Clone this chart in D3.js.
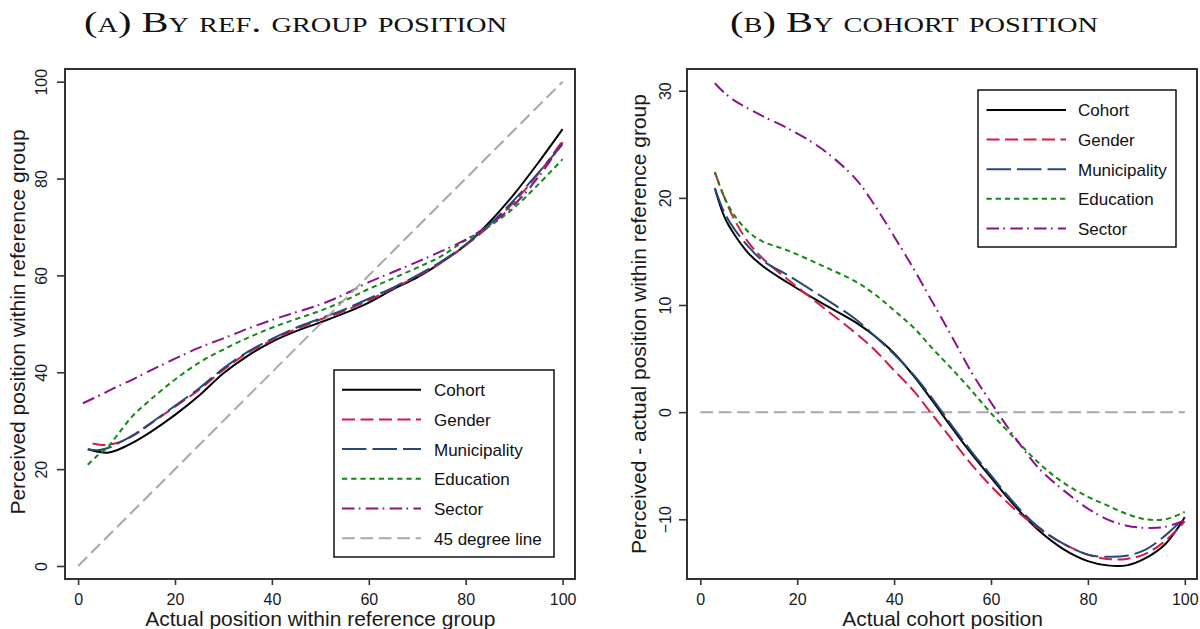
<!DOCTYPE html>
<html>
<head>
<meta charset="utf-8">
<script src="https://cdn.jsdelivr.net/npm/d3@7"></script>
<style>
  html,body{margin:0;padding:0;background:#fff;}
  svg{display:block;}
</style>
</head>
<body>
<svg id="chart" width="1200" height="629"></svg>
<script>
// ---------------- DATA ----------------
// Panel A: perceived position within reference group vs actual position
const leftTicksX = [0, 20, 40, 60, 80, 100];
const leftTicksY = [0, 20, 40, 60, 80, 100];
const leftGrid   = [2,4,6,8,11,15,20,25,30,35,40,45,50,55,60,65,70,75,80,85,90,95,100];
const leftCohort = [24.1,23.6,23.4,23.9,25.3,27.7,31.2,35.2,39.8,43.4,46.3,48.5,50.3,52.2,54.4,57.1,59.6,62.7,66.3,71.1,76.8,83.3,90.2];
const leftGenderX = [3,5,8,11,15,20,25,30,35,40,45,50,55,60,65,70,75,80,85,90,95,100];
const leftGender = [25.3,25.0,25.4,26.7,29.4,32.9,36.4,40.5,44.0,46.6,48.9,50.9,52.7,54.9,57.3,59.8,62.7,66.2,70.3,75.2,81.0,87.8];
const leftMunicipality = [24.1,23.9,24.3,25.2,26.8,29.5,33.1,36.7,40.8,44.2,46.9,49.2,51.1,53.0,55.2,57.5,60.0,62.9,66.4,70.6,75.6,81.2,87.1];
const leftEducation = [20.9,22.8,24.4,26.9,30.7,34.4,38.5,42.0,44.7,47.1,49.2,51.0,52.7,54.8,57.2,59.4,61.6,64.0,67.3,70.2,74.0,78.8,84.0];
const leftSectorX = [1,5,8,11,15,20,25,30,35,40,45,50,55,60,65,70,75,80,85,90,95,100];
const leftSector = [33.6,35.5,37.0,38.4,40.4,42.8,45.1,47.0,49.0,50.8,52.4,54.0,56.1,58.6,60.7,62.8,65.0,67.4,70.5,74.6,80.3,87.5];
const diagonalX = [0, 100];
const diagonalY = [0, 100];

// Panel B: perceived - actual position vs actual cohort position
const rightTicksX = [0, 20, 40, 60, 80, 100];
const rightTicksY = [-10, 0, 10, 20, 30];
const rightGrid   = [3,5,7,10,13,18,25,32,36,40,44,48,52,56,60,65,70,75,80,84,88,92,96,100];
const rightCohort = [20.9,18.2,16.6,14.8,13.6,12.1,10.2,8.4,7.1,5.5,3.4,1.0,-1.5,-3.9,-6.1,-8.8,-11.1,-12.8,-13.9,-14.3,-14.3,-13.6,-12.3,-9.8];
const rightGender = [22.4,20.0,18.0,15.8,14.3,12.4,9.9,7.4,5.8,3.9,2.0,-0.3,-2.6,-4.9,-6.9,-9.1,-10.9,-12.3,-13.3,-13.7,-13.7,-13.2,-12.0,-10.2];
const rightMunicipality = [20.9,18.6,17.1,15.4,14.1,12.8,10.8,8.7,7.1,5.4,3.5,1.2,-1.3,-3.7,-5.9,-8.6,-10.8,-12.3,-13.3,-13.5,-13.4,-12.8,-11.5,-9.8];
const rightEducation = [22.4,20.0,18.4,16.8,15.9,15.1,13.7,12.2,11.0,9.5,7.9,5.9,4.0,2.0,-0.1,-2.5,-4.8,-6.6,-7.9,-8.7,-9.5,-10.0,-10.0,-9.3];
const rightSector = [30.7,29.8,29.1,28.3,27.6,26.5,24.6,21.8,19.3,16.4,13.4,10.2,7.0,3.7,0.9,-2.4,-5.3,-7.3,-9.0,-10.0,-10.6,-10.8,-10.7,-10.1];
const zeroLineX = [0, 100];
const zeroLineY = [0, 0];

const leftLegendLabels = ["Cohort","Gender","Municipality","Education","Sector","45 degree line"];
const rightLegendLabels = ["Cohort","Gender","Municipality","Education","Sector"];

// ---------------- STYLES ----------------
const styles = {
  Cohort:        {color:"#000000", dash:null},
  Gender:        {color:"#d01c46", dash:"13,5.5"},
  Municipality:  {color:"#27497a", dash:"24.5,6"},
  Education:     {color:"#138a13", dash:"5.3,3.9"},
  Sector:        {color:"#8c128c", dash:"12.5,4.3,1.7,5.3"},
  "45 degree line": {color:"#a8a8a8", dash:"12.7,5.7"}
};

const svg = d3.select("#chart");
const FONT = "'Liberation Sans', Arial, sans-serif";
const SERIF = "'Liberation Serif', 'Times New Roman', serif";
const zip = (xs, ys) => xs.map((v,i)=>[v, ys[i]]);

function drawPanel(cfg){
  const g = svg.append("g");
  const x = d3.scaleLinear().domain([0,100]).range(cfg.xRange);
  const y = d3.scaleLinear().domain(cfg.yDomain).range(cfg.yRange);
  const f = cfg.frame;

  const line = d3.line().x(d=>x(d[0])).y(d=>y(d[1])).curve(d3.curveCatmullRom.alpha(0.5));

  (cfg.under||[]).forEach(s=>{
    g.append("path").attr("d", line(s.data)).attr("fill","none")
      .attr("stroke", styles[s.name].color).attr("stroke-width",2)
      .attr("stroke-dasharray", styles[s.name].dash);
  });
  cfg.series.forEach(s=>{
    const st = styles[s.name];
    g.append("path").attr("d", line(s.data)).attr("fill","none")
      .attr("stroke", st.color).attr("stroke-width", 2)
      .attr("stroke-dasharray", st.dash).attr("stroke-linejoin","round");
  });

  g.append("rect").attr("x",f.x0).attr("y",f.y0).attr("width",f.x1-f.x0).attr("height",f.y1-f.y0)
    .attr("fill","none").attr("stroke","#333").attr("stroke-width",2);

  const xa = g.append("g").attr("transform",`translate(0,${f.y1})`)
    .call(d3.axisBottom(x).tickValues(cfg.xTicks).tickSize(6).tickPadding(8.6).tickFormat(d3.format("d")));
  xa.select(".domain").remove();
  xa.selectAll("line").attr("stroke","#333").attr("stroke-width",1.6);
  xa.selectAll("text").attr("font-family",FONT).attr("font-size",16).attr("fill","#1a1a1a");

  const ya = g.append("g").attr("transform",`translate(${f.x0},0)`)
    .call(d3.axisLeft(y).tickValues(cfg.yTicks).tickSize(8).tickFormat(d3.format("d")));
  ya.select(".domain").remove();
  ya.selectAll("line").attr("stroke","#333").attr("stroke-width",1.6);
  ya.selectAll("text").attr("x",null).attr("dy",null)
    .attr("transform",`translate(${cfg.yLabelOff},0) rotate(-90)`)
    .attr("text-anchor","middle")
    .attr("font-family",FONT).attr("font-size",16).attr("fill","#1a1a1a");

  g.append("text").attr("x",(cfg.xRange[0]+cfg.xRange[1])/2).attr("y",626)
    .attr("text-anchor","middle").attr("font-family",FONT).attr("font-size",21).attr("fill","#1a1a1a")
    .text(cfg.xTitle);
  g.append("text").attr("transform",`translate(${cfg.yTitleX},${cfg.yTitleY}) rotate(-90)`)
    .attr("text-anchor","middle").attr("font-family",FONT).attr("font-size",21).attr("fill","#1a1a1a")
    .text(cfg.yTitle);

  const L = cfg.legend;
  g.append("rect").attr("x",L.x0).attr("y",L.y0).attr("width",L.x1-L.x0).attr("height",L.y1-L.y0)
    .attr("fill","#fff").attr("stroke","#000").attr("stroke-width",1.4);
  L.labels.forEach((lab,i)=>{
    const ry = L.row0 + i*L.step;
    const st = styles[lab];
    g.append("line").attr("x1",L.s0).attr("x2",L.s1).attr("y1",ry).attr("y2",ry)
      .attr("stroke",st.color).attr("stroke-width",2).attr("stroke-dasharray",st.dash);
    g.append("text").attr("x",L.tx).attr("y",ry).attr("dy","0.38em")
      .attr("font-family",FONT).attr("font-size",17).attr("fill","#111").text(lab);
  });

  const t = svg.append("text").attr("x",cfg.titleX).attr("y",32).attr("text-anchor","start")
    .attr("font-family",SERIF).attr("font-size",28.5).attr("fill","#111")
    .style("font-variant","small-caps").text(cfg.title);
  t.attr("textLength", cfg.titleW).attr("lengthAdjust","spacingAndGlyphs");
}

drawPanel({
  frame:{x0:65,x1:575,y0:69,y1:579},
  xRange:[78.1,562.6], yDomain:[0,100], yRange:[566,81.7],
  xTicks:leftTicksX, yTicks:leftTicksY, yLabelOff:-18,
  xTitle:"Actual position within reference group",
  yTitle:"Perceived position within reference group", yTitleX:25, yTitleY:322,
  series:[
    {name:"Cohort", data:zip(leftGrid,leftCohort)},
    {name:"Gender", data:zip(leftGenderX,leftGender)},
    {name:"Municipality", data:zip(leftGrid,leftMunicipality)},
    {name:"Education", data:zip(leftGrid,leftEducation)},
    {name:"Sector", data:zip(leftSectorX,leftSector)},
    {name:"45 degree line", data:zip(diagonalX,diagonalY)}
  ],
  legend:{x0:334,x1:554,y0:370,y1:557,row0:389.7,step:29.7,s0:342,s1:421,tx:434,labels:leftLegendLabels},
  title:"(a) By ref. group position", titleX:84, titleW:423
});

drawPanel({
  frame:{x0:687,x1:1197,y0:69,y1:579},
  xRange:[700.3,1184.8], yDomain:[-10,30], yRange:[519.3,90.7],
  xTicks:rightTicksX, yTicks:rightTicksY, yLabelOff:-16,
  xTitle:"Actual cohort position",
  yTitle:"Perceived - actual position within reference group", yTitleX:645.5, yTitleY:324,
  under:[{name:"45 degree line", data:zip(zeroLineX,zeroLineY)}],
  series:[
    {name:"Cohort", data:zip(rightGrid,rightCohort)},
    {name:"Gender", data:zip(rightGrid,rightGender)},
    {name:"Municipality", data:zip(rightGrid,rightMunicipality)},
    {name:"Education", data:zip(rightGrid,rightEducation)},
    {name:"Sector", data:zip(rightGrid,rightSector)}
  ],
  legend:{x0:978,x1:1176,y0:90,y1:247,row0:110,step:29.6,s0:986.5,s1:1066,tx:1078,labels:rightLegendLabels},
  title:"(b) By cohort position", titleX:730, titleW:368
});
</script>
</body>
</html>
